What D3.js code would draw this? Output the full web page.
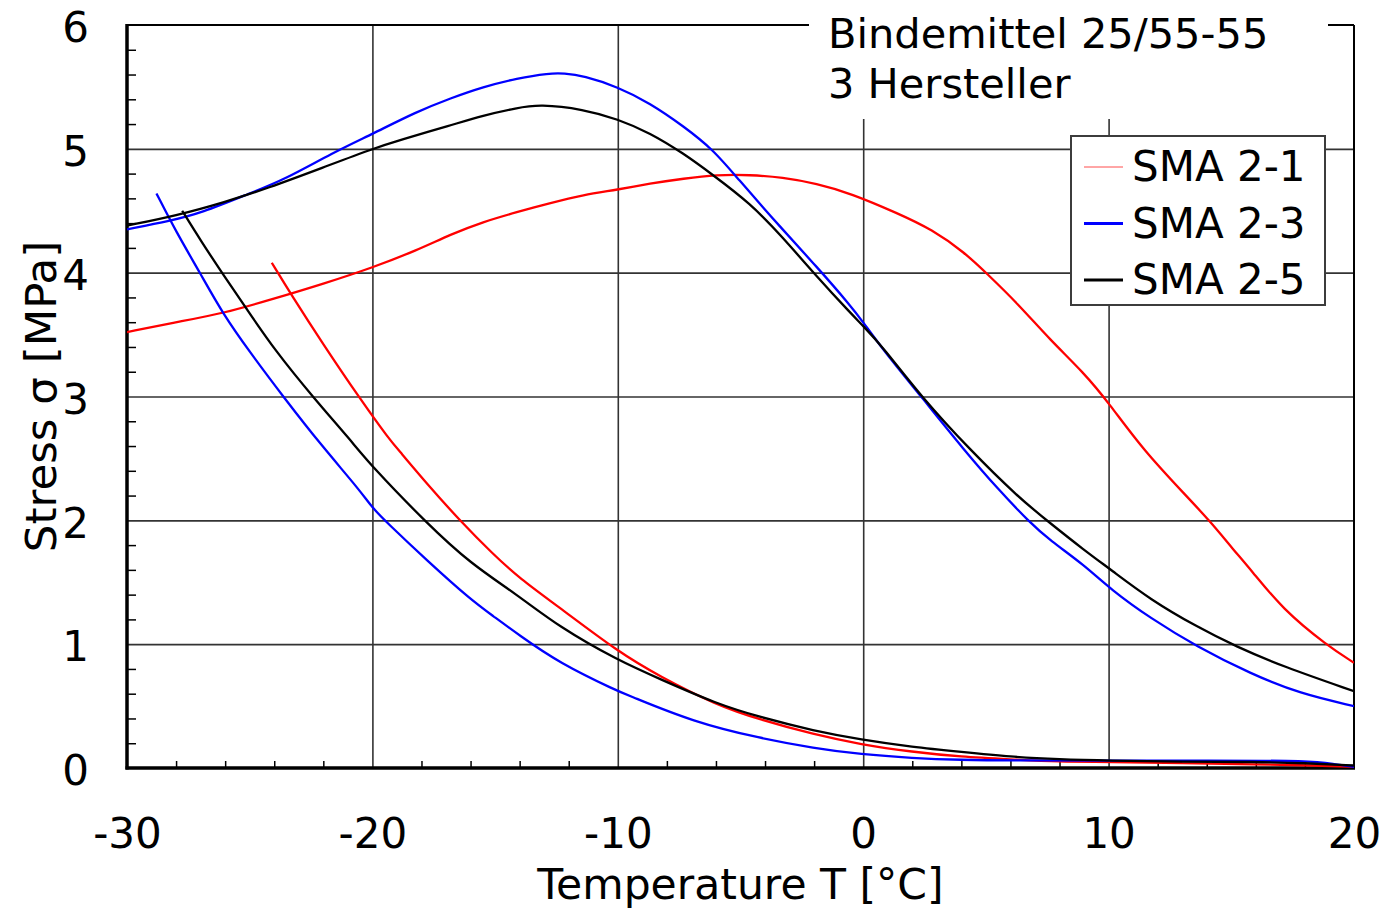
<!DOCTYPE html>
<html>
<head>
<meta charset="utf-8">
<script src="https://cdn.jsdelivr.net/npm/d3@7"></script>
<style>
  body { margin: 0; background: #fff; }
  svg { display: block; font-family: 'DejaVu Sans', Verdana, sans-serif; }
</style>
</head>
<body>
<div id="chart"></div>
<script>
// Tick values and labels
const xTicks = [-30, -20, -10, 0, 10, 20];
const yTicks = [0, 1, 2, 3, 4, 5, 6];
const seriesNames = ['SMA 2-1', 'SMA 2-3', 'SMA 2-5'];
const seriesColors = ['#ff0000', '#0000ff', '#000000'];

// SMA 2-1, upper branch (temperature, stress)
const sma21UpperT = [-30, -28, -26.1, -24, -22, -20, -18.2, -16.8, -15.5, -14.1, -12.8, -11.4, -10, -8.7, -7.3, -6, -4.6, -3.3, -1.9, -0.5, 1.4, 2.8, 4.15, 5, 6.3, 7.6, 9, 10, 11.4, 13.2, 14.1, 15.1, 15.8, 17.1, 18.9, 20];
const sma21UpperS = [3.52, 3.60, 3.67, 3.79, 3.91, 4.04, 4.18, 4.31, 4.41, 4.49, 4.56, 4.63, 4.67, 4.72, 4.76, 4.79, 4.79, 4.77, 4.72, 4.64, 4.48, 4.35, 4.16, 4.0, 3.75, 3.46, 3.19, 2.95, 2.57, 2.19, 2.0, 1.76, 1.60, 1.28, 0.99, 0.85];
// SMA 2-1, lower branch
const sma21LowerT = [-24.1, -23.3, -22, -20.5, -19.3, -18.9, -17.8, -16.4, -15.1, -14, -12.4, -10, -8.3, -6, -4.2, -2, -0.1, 2, 4, 6, 8, 10, 13, 16, 18.5, 20];
const sma21LowerS = [4.08, 3.82, 3.42, 2.98, 2.65, 2.56, 2.30, 1.99, 1.73, 1.53, 1.30, 0.94, 0.74, 0.51, 0.39, 0.27, 0.19, 0.13, 0.09, 0.07, 0.05, 0.05, 0.04, 0.03, 0.02, 0.01];

// SMA 2-3, upper branch
const sma23UpperT = [-30, -28.2, -27, -25, -23.6, -21.6, -20, -18.2, -16.8, -15.5, -14.1, -12.8, -12.2, -11.4, -10, -8.7, -7.3, -6.1, -5.2, -3.3, -1.9, -0.5, 0, 0.8, 2.4, 4.1, 5.5, 6.8, 7.6, 9, 10.1, 11.7, 13.6, 15.8, 17.8, 20];
const sma23UpperS = [4.35, 4.42, 4.48, 4.64, 4.75, 4.97, 5.12, 5.30, 5.41, 5.50, 5.57, 5.61, 5.61, 5.59, 5.50, 5.37, 5.18, 4.99, 4.78, 4.35, 4.05, 3.73, 3.60, 3.38, 2.99, 2.57, 2.25, 1.98, 1.84, 1.64, 1.44, 1.21, 0.98, 0.76, 0.60, 0.50];
// SMA 2-3, lower branch
const sma23LowerT = [-28.8, -28, -27, -26.1, -25, -23.6, -22.1, -20.5, -20, -19.4, -17.8, -16, -15.1, -14, -12.4, -10, -9.6, -6.9, -4.2, -2, -0.1, 2, 4, 6, 10, 14, 18.3, 19.2, 20];
const sma23LowerS = [4.64, 4.33, 3.99, 3.67, 3.36, 2.99, 2.61, 2.24, 2.10, 1.98, 1.68, 1.36, 1.23, 1.07, 0.85, 0.62, 0.59, 0.37, 0.24, 0.16, 0.11, 0.08, 0.065, 0.06, 0.06, 0.06, 0.06, 0.03, 0.01];

// SMA 2-5, upper branch
const sma25UpperT = [-30, -28, -26, -24.3, -22, -20, -18.9, -16.8, -15.5, -14.1, -13.2, -11.4, -10, -8.7, -7.3, -6.2, -4.6, -3.3, -1.9, -0.5, 0, 0.8, 2.4, 4.35, 6.3, 7.6, 9, 10.1, 11.7, 13.6, 15.2, 17.1, 20];
const sma25UpperS = [4.38, 4.46, 4.57, 4.68, 4.85, 5.0, 5.07, 5.19, 5.27, 5.33, 5.36, 5.32, 5.24, 5.13, 4.96, 4.80, 4.56, 4.29, 3.97, 3.67, 3.57, 3.40, 2.99, 2.57, 2.19, 1.98, 1.76, 1.60, 1.36, 1.14, 0.98, 0.82, 0.62];
// SMA 2-5, lower branch
const sma25LowerT = [-27.75, -27, -26.1, -25.1, -24, -22.4, -20.9, -20, -17.8, -16, -14.1, -12.4, -10, -8.3, -6, -4.2, -2, -0.1, 2, 4, 6, 8, 10, 13, 16, 18, 20];
const sma25LowerS = [4.50, 4.26, 3.99, 3.70, 3.38, 2.99, 2.65, 2.43, 1.98, 1.65, 1.40, 1.14, 0.87, 0.72, 0.52, 0.41, 0.30, 0.23, 0.17, 0.13, 0.09, 0.07, 0.06, 0.05, 0.05, 0.04, 0.02];

// Canvas size
const MARGIN = { TOP: 25, BOTTOM: 142, LEFT: 127, RIGHT: 44 };
const WIDTH = 1398 - MARGIN.LEFT - MARGIN.RIGHT;
const HEIGHT = 910 - MARGIN.TOP - MARGIN.BOTTOM;
const FONT = "'DejaVu Sans', Verdana, sans-serif";

const svg = d3
  .select('#chart')
  .append('svg')
  .attr('width', 1398)
  .attr('height', 910);

const g = svg.append('g').attr('transform', `translate(${MARGIN.LEFT}, ${MARGIN.TOP})`);

const x = d3.scaleLinear().domain([-30, 20]).range([0, WIDTH]);
const y = d3.scaleLinear().domain([0, 6]).range([HEIGHT, 0]);

// Grid lines at the major ticks
const gridColor = '#333';
g.append('g')
  .attr('transform', `translate(0, ${HEIGHT})`)
  .call(d3.axisBottom(x).tickValues(xTicks.slice(1, -1)).tickSize(-HEIGHT).tickFormat(''))
  .call(a => a.select('.domain').remove())
  .selectAll('line')
  .attr('stroke', gridColor)
  .attr('stroke-width', 1.6);

g.append('g')
  .call(d3.axisLeft(y).tickValues(yTicks.slice(1, -1)).tickSize(-WIDTH).tickFormat(''))
  .call(a => a.select('.domain').remove())
  .selectAll('line')
  .attr('stroke', gridColor)
  .attr('stroke-width', 1.6);

// Minor ticks pointing inwards
const yMinor = d3.range(1, 30).map(i => i / 5).filter(v => Math.abs(v - Math.round(v)) > 1e-6);
const xMinor = d3.range(-28, 20, 2).filter(v => v % 10 !== 0);

g.append('g')
  .call(d3.axisLeft(y).tickValues(yMinor).tickSize(-9).tickFormat(''))
  .call(a => a.select('.domain').remove())
  .selectAll('line')
  .attr('stroke', '#000')
  .attr('stroke-width', 1.5);

g.append('g')
  .attr('transform', `translate(0, ${HEIGHT})`)
  .call(d3.axisBottom(x).tickValues(xMinor).tickSize(-7).tickFormat(''))
  .call(a => a.select('.domain').remove())
  .selectAll('line')
  .attr('stroke', '#000')
  .attr('stroke-width', 1.5);

// Frame: top and right thin, left and bottom thick
g.append('line').attr('x1', 0).attr('x2', WIDTH).attr('y1', 0).attr('y2', 0)
  .attr('stroke', '#000').attr('stroke-width', 2);
g.append('line').attr('x1', WIDTH).attr('x2', WIDTH).attr('y1', 0).attr('y2', HEIGHT)
  .attr('stroke', '#000').attr('stroke-width', 2);
g.append('line').attr('x1', 0).attr('x2', 0).attr('y1', -1).attr('y2', HEIGHT + 1.5)
  .attr('stroke', '#000').attr('stroke-width', 3.5);
g.append('line').attr('x1', -1.5).attr('x2', WIDTH + 1).attr('y1', HEIGHT).attr('y2', HEIGHT)
  .attr('stroke', '#000').attr('stroke-width', 3.5);

// Tick labels (plain hyphen for negatives, as in the original)
const yAxis = g.append('g')
  .call(d3.axisLeft(y).tickValues(yTicks).tickSize(0).tickPadding(38).tickFormat(d => String(d)));
yAxis.select('.domain').remove();
yAxis.selectAll('text')
  .attr('dy', '0.4em')
  .style('font-size', '42px')
  .style('font-family', FONT)
  .attr('fill', '#000');

const xAxis = g.append('g')
  .attr('transform', `translate(0, ${HEIGHT})`)
  .call(d3.axisBottom(x).tickValues(xTicks).tickSize(0).tickPadding(50).tickFormat(d => String(d)));
xAxis.select('.domain').remove();
xAxis.selectAll('text')
  .style('font-size', '42px')
  .style('font-family', FONT)
  .attr('fill', '#000');

// Axis titles
svg.append('text')
  .attr('x', MARGIN.LEFT + WIDTH / 2)
  .attr('y', 899)
  .attr('text-anchor', 'middle')
  .style('font-size', '42.5px')
  .text('Temperature T [°C]');

svg.append('text')
  .attr('transform', `translate(56, ${MARGIN.TOP + HEIGHT / 2}) rotate(-90)`)
  .attr('text-anchor', 'middle')
  .style('font-size', '43.5px')
  .text('Stress σ [MPa]');

// Title box cut into the top frame
svg.append('rect')
  .attr('x', 809).attr('y', 0).attr('width', 519).attr('height', 119)
  .attr('fill', '#fff');
svg.append('text').attr('x', 828).attr('y', 48).style('font-size', '41.5px').text('Bindemittel 25/55-55');
svg.append('text').attr('x', 828).attr('y', 98).style('font-size', '41.5px').text('3 Hersteller');

// Curves
svg.append('clipPath').attr('id', 'plot-clip')
  .append('rect').attr('x', 0).attr('y', 0).attr('width', WIDTH).attr('height', HEIGHT);

const line = d3.line()
  .x(d => x(d[0]))
  .y(d => y(d[1]))
  .curve(d3.curveBasis);

const branches = [
  { t: sma21UpperT, s: sma21UpperS, color: seriesColors[0] },
  { t: sma21LowerT, s: sma21LowerS, color: seriesColors[0] },
  { t: sma23UpperT, s: sma23UpperS, color: seriesColors[1] },
  { t: sma23LowerT, s: sma23LowerS, color: seriesColors[1] },
  { t: sma25UpperT, s: sma25UpperS, color: seriesColors[2] },
  { t: sma25LowerT, s: sma25LowerS, color: seriesColors[2] }
];

const curveGroup = g.append('g').attr('clip-path', 'url(#plot-clip)');
branches.forEach(function(b) {
  curveGroup
    .append('path')
    .datum(d3.zip(b.t, b.s))
    .attr('fill', 'none')
    .attr('stroke', b.color)
    .attr('stroke-width', 2.3)
    .attr('stroke-linejoin', 'round')
    .attr('d', line);
});

// Legend
const legend = svg.append('g').attr('transform', 'translate(1071, 136)');
legend.append('rect')
  .attr('width', 254).attr('height', 169)
  .attr('fill', '#fff').attr('stroke', '#3c3c3c').attr('stroke-width', 2);

seriesNames.forEach(function(name, i) {
  const ly = 31 + i * 56.5;
  legend.append('line')
    .attr('x1', 13).attr('x2', 52).attr('y1', ly).attr('y2', ly)
    .attr('stroke', seriesColors[i])
    .attr('stroke-width', i === 0 ? 1 : 3)
    .attr('stroke-opacity', i === 0 ? 0.7 : 1);
  legend.append('text')
    .attr('x', 61).attr('y', ly + 14)
    .style('font-size', '42px')
    .text(name);
});
</script>
</body>
</html>
